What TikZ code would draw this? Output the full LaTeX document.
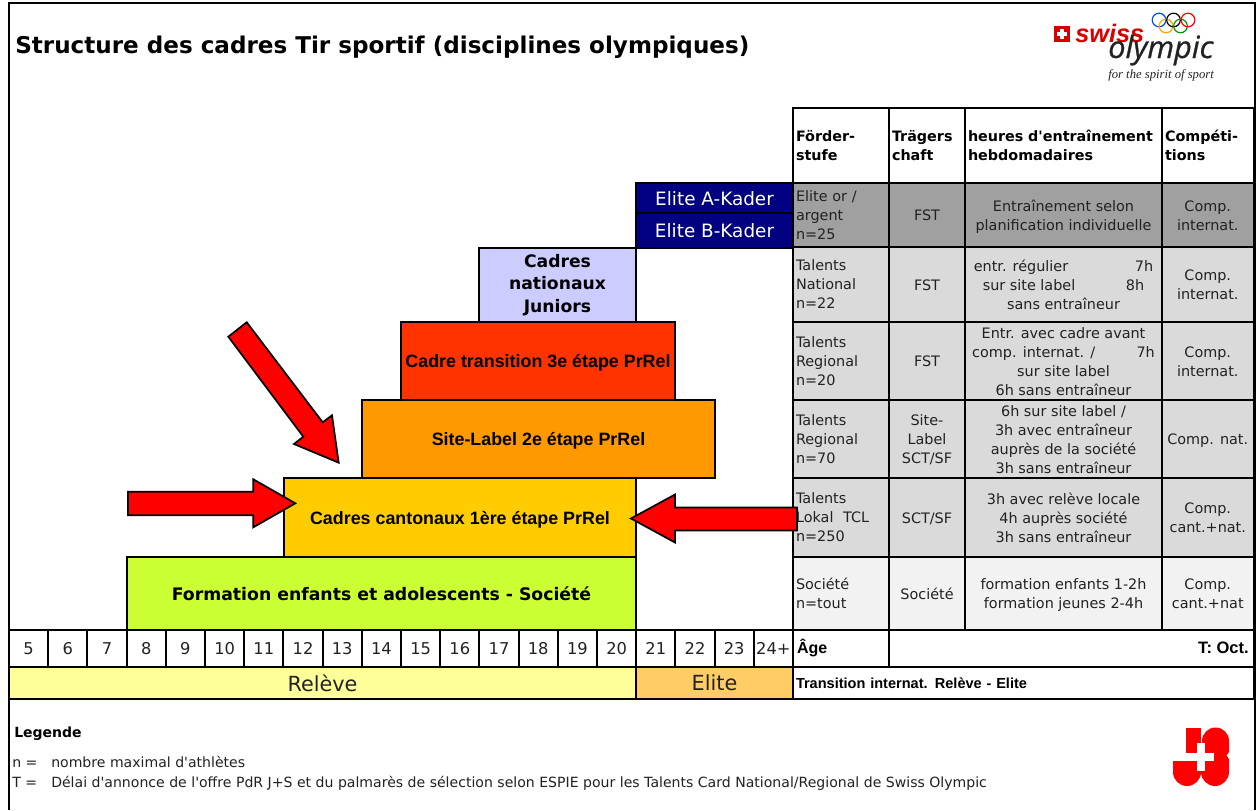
\documentclass[tikz,border=0pt]{standalone}
\usepackage{fontspec}
\setmainfont{DejaVu Sans}
\newfontfamily\vvf{DejaVu Sans}
\newfontfamily\arialf{Liberation Sans}
\newfontfamily\serf{Liberation Serif}
\newfontfamily\opf[FakeBold=0.8]{Open Sans}
\definecolor{rowa}{HTML}{A0A0A0}
\definecolor{rowb}{HTML}{DADADA}
\definecolor{rowc}{HTML}{F2F2F2}
\definecolor{navyb}{HTML}{000080}
\definecolor{jun}{HTML}{CCCCFF}
\definecolor{trans}{HTML}{FF3300}
\definecolor{sitel}{HTML}{FF9900}
\definecolor{cant}{HTML}{FFCC00}
\definecolor{form}{HTML}{CCFF33}
\definecolor{relv}{HTML}{FFFF99}
\definecolor{elit}{HTML}{FFCC66}
\definecolor{txtd}{HTML}{222222}
\newcommand{\fs}[2]{\fontsize{#1}{#2}\selectfont}
\newcommand{\q}{{\vvf'}}
\newcommand{\bx}[7][]{\node[boxcell,minimum width={(#5-#3)*0.75pt},minimum height={(#6-#4)*0.75pt},#1] (#2) at ({(#3+#5)/2},{(#4+#6)/2}) {#7};}
\newcommand{\tb}[7][]{\bx[#1]{#2}{#3}{#4}{#5}{#6}{\rule{0pt}{11.3pt}#7\rule[-2.5pt]{0pt}{2.5pt}}}
\newcommand{\ab}[7][]{\bx[boxlab,#1]{#2}{#3}{#4}{#5}{#6}{\rule{0pt}{12.9pt}#7\rule[-2.5pt]{0pt}{2.5pt}}}
\newcommand{\lc}[7][]{\node[boxcell,inner xsep=2.25pt,align=left,text width={(#5-#3)*0.75pt-4.5pt},minimum height={(#6-#4)*0.75pt},#1] (#2) at ({(#3+#5)/2},{(#4+#6)/2}) {#7};}
\tikzset{
 boxcell/.style={draw=black,line width=1.5pt,inner sep=0pt,align=center,font=\fs{10.8}{14.25},text=txtd},
 headcell/.style={inner xsep=3pt,text width={},font=\bfseries\fs{10.75}{14.25},text=black},
 boxlab/.style={font=\arialf\bfseries\fs{13.4}{14},text=black},
 juniorlab/.style={font=\bfseries\fs{12.9}{16.8},text=black},
 agecell/.style={font=\fs{12.2}{14}},
 bandcell/.style={font=\fs{15.6}{16}},
 elitecell/.style={fill=navyb,text=white,font=\fs{13.8}{14}},
 legtext/.style={plain,anchor=base west,font=\fs{10.55}{12},text=txtd},
 redarrow/.style={draw=black,line width=1.3pt,fill=red,line join=miter},
 plain/.style={inner sep=0pt,text=black},
 ring/.style={line width=0.9pt,draw=#1}
}
\begin{document}
\begin{tikzpicture}[x=0.75pt,y=-0.75pt]
\useasboundingbox (0,0) rectangle (1256,810);
\fill[white] (0,0) rectangle (1256,810);
% frame
\draw[line width=1.5pt,black] (8.5,810) -- (8.5,3) -- (1254.5,3) -- (1254.5,810);
% title
\node[plain,anchor=base west,font=\bfseries\fs{17.3}{20}] (title) at (15,53) {Structure des cadres Tir sportif (disciplines olympiques)};
% logo
\fill[red!85!black] (1054,26) rectangle (1070,42);
\fill[white] (1060,29) rectangle (1064,39);
\fill[white] (1057,32) rectangle (1067,36);
\node[plain,anchor=base west,text=red!85!black,font=\arialf\bfseries\itshape\fs{19}{20}] (swiss) at (1075,42) {swiss};
\node[plain,anchor=base west,text=txtd,font=\opf\itshape\fs{23}{25}] (olympic) at (1108,58) {olympic};
\node[plain,anchor=base west,text=txtd,font=\serf\itshape\fs{9.5}{10}] (spirit) at (1108,78) {for the spirit of sport};
\draw[ring=blue!70!cyan] (1159,20) circle (6.8);
\draw[ring=orange!70!yellow] (1166,26) circle (6.8);
\draw[ring=black] (1173.5,20) circle (6.8);
\draw[ring=green!60!black] (1180.5,26) circle (6.8);
\draw[ring=red] (1188,20) circle (6.8);
% pyramid
\bx[elitecell]{ea}{636}{183}{793}{213}{\rule{0pt}{10.8pt}Elite A-Kader}
\bx[elitecell]{eb}{636}{213}{793}{247.5}{\rule{0pt}{10.8pt}Elite B-Kader}
\bx[fill=jun,juniorlab]{jn}{479}{248}{636}{322}{Cadres\\nationaux\\Juniors}
\ab[fill=trans]{tr}{401}{322}{675}{400}{Cadre transition 3e étape PrRel}
\ab[fill=sitel]{sl}{362}{400}{715}{478}{Site-Label 2e étape PrRel}
\ab[fill=cant]{ca}{284}{478}{636}{557}{Cadres cantonaux 1ère étape PrRel}
\bx[fill=form,font=\bfseries\fs{12.95}{14},text=black]{fo}{127}{557}{636}{630}{Formation enfants et adolescents - Société}
% table header
\lc[font=\bfseries\fs{10.75}{14.25},text=black]{h1}{793}{108}{889}{183}{Förder-\\stufe}
\lc[font=\bfseries\fs{10.75}{14.25},text=black]{h2}{889}{108}{965}{183}{Trägers\\chaft}
\lc[font=\bfseries\fs{10.75}{14.25},text=black]{h3}{965}{108}{1162}{183}{heures d\q entraînement\\hebdomadaires}
\lc[font=\bfseries\fs{10.75}{14.25},text=black]{h4}{1162}{108}{1253.5}{183}{Compéti-\\tions}
% row 1
\lc[fill=rowa]{a1}{793}{183}{889}{247}{Elite or /\\argent\\n=25}
\tb[fill=rowa]{a2}{889}{183}{965}{247}{FST}
\tb[fill=rowa]{a3}{965}{183}{1162}{247}{Entraînement selon\\planification individuelle}
\tb[fill=rowa]{a4}{1162}{183}{1253.5}{247}{Comp.\\internat.}
% row 2
\lc[fill=rowb]{b1}{793}{247}{889}{322}{Talents\\National\\n=22}
\tb[fill=rowb]{b2}{889}{247}{965}{322}{FST}
\tb[fill=rowb]{b3}{965}{247}{1162}{322}{entr. régulier\hspace{50pt}7h\\sur site label\hspace{38pt}8h\\sans entraîneur}
\tb[fill=rowb]{b4}{1162}{247}{1253.5}{322}{Comp.\\internat.}
% row 3
\lc[fill=rowb]{c1}{793}{322}{889}{400}{Talents\\Regional\\n=20}
\tb[fill=rowb]{c2}{889}{322}{965}{400}{FST}
\tb[fill=rowb]{c3}{965}{322}{1162}{400}{Entr. avec cadre avant\\comp. internat. /\hspace{31pt}7h\\sur site label\\6h sans entraîneur}
\tb[fill=rowb]{c4}{1162}{322}{1253.5}{400}{Comp.\\internat.}
% row 4
\lc[fill=rowb]{d1}{793}{400}{889}{478}{Talents\\Regional\\n=70}
\tb[fill=rowb]{d2}{889}{400}{965}{478}{Site-\\Label\\SCT/SF}
\tb[fill=rowb]{d3}{965}{400}{1162}{478}{6h sur site label /\\3h avec entraîneur\\auprès de la société\\3h sans entraîneur}
\tb[fill=rowb]{d4}{1162}{400}{1253.5}{478}{Comp. nat.}
% row 5
\lc[fill=rowb]{e1}{793}{478}{889}{557}{Talents\\Lokal\ \ TCL\\n=250}
\tb[fill=rowb]{e2}{889}{478}{965}{557}{SCT/SF}
\tb[fill=rowb]{e3}{965}{478}{1162}{557}{3h avec relève locale\\4h auprès société\\3h sans entraîneur}
\tb[fill=rowb]{e4}{1162}{478}{1253.5}{557}{Comp.\\cant.+nat.}
% row 6
\lc[fill=rowc]{f1}{793}{557}{889}{630}{Société\\n=tout}
\tb[fill=rowc]{f2}{889}{557}{965}{630}{Société}
\tb[fill=rowc]{f3}{965}{557}{1162}{630}{formation enfants 1-2h\\formation jeunes 2-4h}
\tb[fill=rowc]{f4}{1162}{557}{1253.5}{630}{Comp.\\cant.+nat}
% age row
\foreach \lab [count=\i from 0] in {5,6,7,8,9,10,11,12,13,14,15,16,17,18,19,20,21,22,23,24+}{
  \pgfmathsetmacro{\xa}{9+39.2*\i}
  \pgfmathsetmacro{\xb}{9+39.2*(\i+1)}
  \tb[agecell]{age\i}{\xa}{630}{\xb}{667}{\lab}
}
\lc[font=\arialf\bfseries\fs{12}{12},text=black]{g1}{793}{630}{889}{667}{\hspace{0.75pt}Âge}
\node[boxcell,minimum width={(1253.5-889)*0.75pt},minimum height={37*0.75pt}] (g2) at ({(889+1253.5)/2},648.5) {};
\node[plain,anchor=east,font=\arialf\bfseries\fs{12.4}{12}] (toct) at (1249,648) {T: Oct.};
% bands
\bx[fill=relv,bandcell]{rl}{9}{667}{636}{699}{Relève}
\bx[fill=elit,bandcell]{el}{636}{667}{793}{699}{Elite}
\lc[font=\arialf\bfseries\fs{10.9}{12},text=black]{tn}{793}{667}{1253.5}{699}{Transition internat. Relève - Elite}
% legend
\node[plain,anchor=base west,font=\bfseries\fs{10.5}{12}] (lg) at (14,737) {Legende};
\node[legtext] (ln) at (12,767) {n =};
\node[legtext] (lnt) at (51,767) {nombre maximal d\q athlètes};
\node[legtext] (lT) at (12,787) {T =};
\node[legtext] (lTt) at (51,787) {Délai d\q annonce de l\q offre PdR J+S et du palmarès de sélection selon ESPIE pour les Talents Card National/Regional de Swiss Olympic};
% arrows
\draw[redarrow] (246.7,322.3) -- (228.3,336.7) -- (303.3,436.7) -- (294,444) -- (338.7,462.7) -- (332,415.3) -- (322.7,422.3) -- cycle;
\draw[redarrow] (128,491.7) -- (253.3,491.7) -- (253.3,479.3) -- (295.3,503.3) -- (253.3,527.3) -- (253.3,515.3) -- (128,515.3) -- cycle;
\draw[redarrow] (797,507.5) -- (675,507.5) -- (675,494.5) -- (631,518.5) -- (675,542.5) -- (675,530.5) -- (797,530.5) -- cycle;
% J+S logo
\fill[red] (1186,728) rectangle (1201,761);
\fill[red] (1173,760) -- (1173,772) arc[start angle=180,end angle=0,radius=14] -- (1201,760) -- cycle;
\fill[red] (1202,741) arc[start angle=180,end angle=360,radius=13.5] -- (1229,752) -- (1226.5,755.5) -- (1229,759) -- (1229,772) arc[start angle=0,end angle=180,radius=14] -- cycle;
\fill[white] (1197,743) rectangle (1205,771);
\fill[white] (1173,753) rectangle (1214,761);
\end{tikzpicture}
\end{document}
